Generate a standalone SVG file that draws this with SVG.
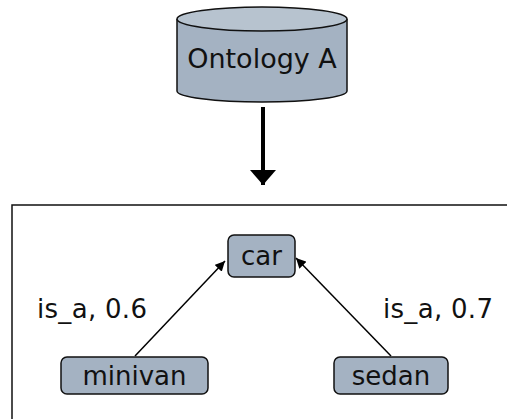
<svg xmlns="http://www.w3.org/2000/svg" width="507" height="419" viewBox="0 0 507 419">
  <style>
    .lbl { font-family: "DejaVu Sans", Verdana, sans-serif; font-size: 26px; fill: #111; }
    .edge-lbl { letter-spacing: 0.3px; }
    .node { fill: #a4b2c2; stroke: #111; stroke-width: 1.5; }
    .edge { stroke: #000; stroke-width: 1.5; fill: none; }
  </style>
  <defs>
    <marker id="tri" viewBox="0 0 10 10" refX="10" refY="5" markerWidth="10" markerHeight="10" markerUnits="userSpaceOnUse" orient="auto">
      <path d="M0,0 L10,5 L0,10 z" fill="#000"/>
    </marker>
    <marker id="bigtri" viewBox="0 0 15 26" refX="15" refY="13" markerWidth="15" markerHeight="26" markerUnits="userSpaceOnUse" orient="auto">
      <path d="M0,0 L15,13 L0,26 z" fill="#000"/>
    </marker>
  </defs>

  <!-- source database -->
  <g id="ontology-a">
    <path d="M177,19 L177,91 A85,11 0 0 0 347,91 L347,19" fill="#a4b2c2" stroke="#111" stroke-width="1.5"/>
    <ellipse cx="262" cy="19" rx="85" ry="12" fill="#b7c3cf" stroke="#111" stroke-width="1.5"/>
    <text class="lbl" x="262" y="68" text-anchor="middle" style="font-size:27px">Ontology A</text>
  </g>

  <!-- container for the taxonomy -->
  <g id="container">
    <rect x="12" y="205" width="510" height="230" fill="#fff" stroke="#111" stroke-width="1.5"/>
  </g>

  <g id="connectors">
    <line x1="263" y1="107" x2="263" y2="185" stroke="#000" stroke-width="4" marker-end="url(#bigtri)"/>
    <line class="edge" x1="135" y1="356" x2="225" y2="261" marker-end="url(#tri)"/>
    <line class="edge" x1="391" y1="356" x2="296" y2="258" marker-end="url(#tri)"/>
    <text class="lbl edge-lbl" x="37" y="318">is_a, 0.6</text>
    <text class="lbl edge-lbl" x="383" y="318">is_a, 0.7</text>
  </g>

  <g id="car">
    <rect class="node" x="228" y="235" width="67" height="42" rx="6"/>
    <text class="lbl" x="261.5" y="265" text-anchor="middle">car</text>
  </g>
  <g id="minivan">
    <rect class="node" x="61" y="357" width="147" height="37" rx="6"/>
    <text class="lbl" x="134.5" y="385" text-anchor="middle">minivan</text>
  </g>
  <g id="sedan">
    <rect class="node" x="334" y="357" width="114" height="37" rx="6"/>
    <text class="lbl" x="391" y="385" text-anchor="middle">sedan</text>
  </g>
</svg>
